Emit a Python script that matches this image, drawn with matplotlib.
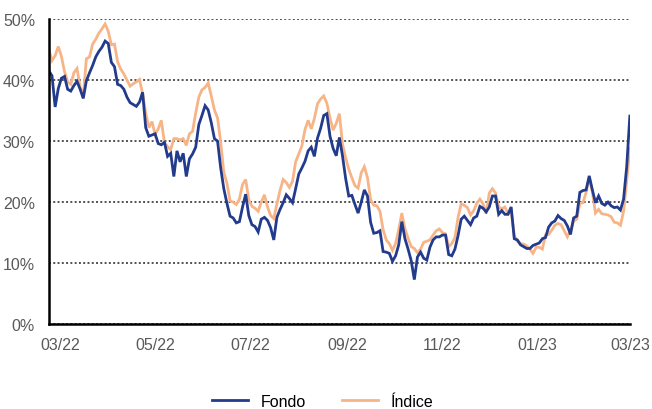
import matplotlib
matplotlib.use('Agg')
import matplotlib.pyplot as plt
import matplotlib.dates as mdates
from matplotlib.ticker import FuncFormatter
from matplotlib.lines import Line2D
import pandas as pd

plt.rcParams['font.family'] = ['Liberation Sans', 'DejaVu Sans']

# Rentabilidad/volatilidad (%), un dato cada 2 días
fondo = [
    41.5, 40.7, 35.6, 38.6, 40.3, 40.6, 38.5, 38.2, 39.1, 39.8,
    38.5, 37.0, 39.9, 41.2, 42.4, 43.8, 44.7, 45.4, 46.4, 46.0,
    42.9, 42.2, 39.3, 39.1, 38.5, 37.2, 36.3, 36.0, 35.7, 36.4,
    38.0, 32.2, 30.8, 31.0, 31.2, 29.6, 29.4, 29.8, 27.5, 28.0,
    24.2, 28.4, 26.6, 28.0, 24.2, 27.1, 27.9, 29.0, 32.7, 34.2,
    35.8, 35.1, 33.0, 30.4, 30.0, 25.6, 22.2, 19.8, 17.7, 17.4,
    16.6, 16.8, 19.2, 21.3, 17.8, 16.3, 16.0, 15.1, 17.2, 17.5,
    17.0, 15.8, 13.8, 17.5, 18.8, 19.9, 21.2, 20.6, 19.9, 22.2,
    24.6, 25.6, 26.7, 28.4, 29.0, 27.5, 30.5, 32.1, 34.2, 34.5,
    30.8, 28.8, 27.6, 30.6, 27.6, 23.9, 21.0, 21.1, 19.6, 18.2,
    20.0, 22.0, 21.0, 16.7, 14.9, 15.0, 15.3, 11.9, 11.8, 11.6,
    10.3, 11.2, 13.0, 16.8, 14.0, 12.3, 10.4, 7.3, 11.0, 11.8,
    10.8, 10.5, 12.6, 13.8, 14.3, 14.3, 14.6, 14.6, 11.4, 11.2,
    12.3, 14.5, 17.2, 17.7, 17.0, 16.3, 17.4, 17.7, 19.3, 19.0,
    18.4, 19.2, 21.0, 21.0, 18.0, 18.6, 18.0, 18.0, 19.2, 14.0,
    13.8, 13.0, 12.7, 12.4, 12.4, 12.9, 13.1, 13.3, 14.0, 14.2,
    15.9, 16.6, 16.9, 17.8, 17.3, 17.0, 16.1, 14.7, 17.4, 17.7,
    21.6, 21.9, 22.0, 24.3, 22.0, 19.9, 21.0, 19.8, 19.5, 20.0,
    19.4, 19.1, 19.2, 18.7, 20.5, 25.8, 34.1,
]

indice = [
    45.0, 43.2, 44.0, 45.5, 43.9, 41.4, 39.7, 39.3, 41.2, 41.9,
    38.9, 37.3, 43.5, 43.8, 45.9, 46.7, 47.7, 48.4, 49.2, 48.0,
    45.8, 45.9, 43.0, 41.8, 41.0, 40.0, 39.0, 39.4, 39.7, 40.1,
    37.8, 34.6, 32.2, 33.2, 31.1, 32.0, 33.4, 29.7, 29.1, 28.6,
    30.4, 30.4, 30.2, 30.4, 29.3, 31.2, 31.6, 34.6, 37.2, 38.4,
    38.8, 39.5, 37.4, 35.1, 33.8, 29.8, 24.9, 23.1, 20.2, 20.0,
    19.6, 20.5, 22.9, 23.7, 20.4, 19.3, 19.0, 18.5, 20.0, 21.2,
    19.2, 17.8, 17.3, 19.7, 21.9, 23.7, 23.2, 22.4, 23.4, 26.6,
    27.9, 29.2, 31.9, 33.4, 32.0, 33.7, 36.1, 36.9, 37.4, 36.2,
    33.8, 31.8, 32.9, 34.5, 29.5, 27.3, 25.4, 24.0, 22.7, 22.3,
    24.8, 25.8, 24.0, 20.4, 19.5, 19.4, 18.5, 15.5, 13.8, 13.2,
    12.1, 13.2, 15.5, 18.2, 15.6, 14.1, 12.7, 12.4, 11.7, 12.3,
    13.4, 13.6, 13.8, 14.6, 15.3, 15.6, 15.0, 14.8, 12.7, 13.2,
    14.2, 17.5, 19.7, 19.5, 19.1, 17.9, 18.6, 19.8, 20.5, 19.7,
    18.1, 21.5, 22.2, 21.5, 19.2, 18.9, 19.2, 18.1, 18.6, 14.5,
    13.6, 13.2, 13.1, 12.8, 12.3, 11.6, 12.6, 12.6, 12.3, 14.6,
    14.7, 15.4, 16.2, 16.5, 16.3, 15.3, 14.3, 15.4, 16.9, 17.2,
    19.8, 19.9, 21.6, 24.0, 21.7, 18.2, 18.8, 18.1, 18.0, 17.9,
    17.6, 16.7, 16.6, 16.2, 18.5, 23.5, 28.8,
]

fechas = pd.date_range(end='2023-03-01', periods=len(fondo), freq='2D')

color_fondo = '#223B8C'
color_indice = '#F7B487'
gris = '#595959'

fig = plt.figure(figsize=(6.52, 4.10), dpi=100)
ax = fig.add_axes([0.075, 0.207, 0.891, 0.744])

ax.plot(fechas, indice, color=color_indice, lw=2.0, solid_joinstyle='miter')
ax.plot(fechas, fondo, color=color_fondo, lw=2.0, solid_joinstyle='miter')

ax.set_ylim(0, 50)
ax.set_xlim(fechas[0], fechas[-1])
ax.set_yticks([0, 10, 20, 30, 40, 50])
ax.yaxis.set_major_formatter(FuncFormatter(lambda v, p: f'{v:.0f}%'))

ticks_x = pd.to_datetime(['2022-03-01', '2022-05-01', '2022-07-01', '2022-09-01',
                          '2022-11-01', '2023-01-01', '2023-03-01'])
ax.set_xticks(ticks_x)
ax.xaxis.set_major_formatter(mdates.DateFormatter('%m/%y'))

# líneas de cuadrícula punteadas, puntos densos
ax.grid(axis='y', linestyle=(0, (1, 1.2)), color='#505050', lw=1.4)
ax.set_axisbelow(True)
for lado in ['top', 'right']:
    ax.spines[lado].set_visible(False)
for lado in ['left', 'bottom']:
    ax.spines[lado].set_linewidth(1.8)
    ax.spines[lado].set_color('black')

ax.tick_params(axis='both', length=0, labelsize=11.5, labelcolor=gris)
ax.tick_params(axis='y', pad=10)
ax.tick_params(axis='x', pad=9)

handles = [Line2D([], [], color=color_fondo, lw=2.0),
           Line2D([], [], color=color_indice, lw=2.0)]
fig.legend(handles, ['Fondo', 'Índice'], loc='lower center', ncol=2,
           bbox_to_anchor=(0.495, -0.035), frameon=False, fontsize=11.5,
           handlelength=2.3, columnspacing=2.2, labelcolor='black')

fig.savefig('out.png', dpi=100)
